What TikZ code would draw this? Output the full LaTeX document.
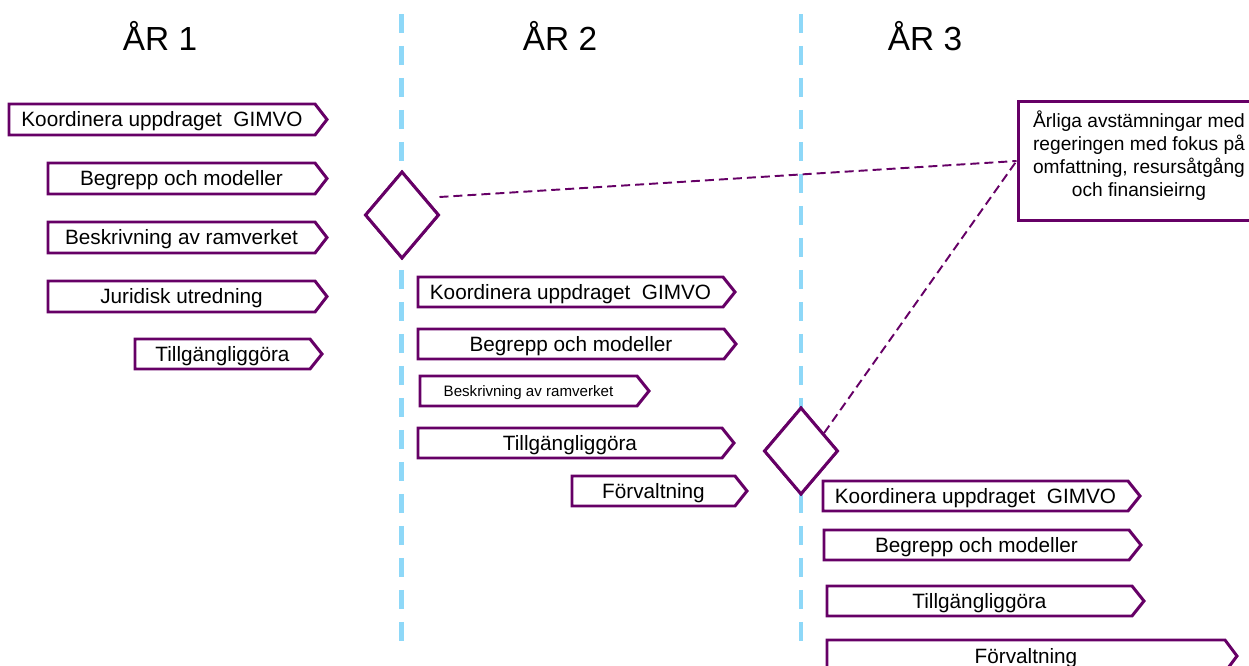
\documentclass[tikz,border=0pt]{standalone}
\usepackage{fontspec}
\setmainfont{Liberation Sans}
\usetikzlibrary{shapes.geometric,calc}
\definecolor{plum}{HTML}{660066}
\definecolor{sky}{HTML}{8ED8F8}
\tikzset{
  yearline/.style={draw=sky, line width=2.6pt, dash pattern=on 0.38cm off 0.26cm},
  phasebox/.style={draw=plum, line width=1.7pt, fill=white, line join=miter},
  phasetext/.style={inner sep=0pt, text height=8.45pt, text depth=0pt,
    font=\fontsize{11.8}{14}\selectfont},
  smalltext/.style={text height=6.16pt, font=\fontsize{8.6}{10}\selectfont},
  milestone/.style={diamond, draw=plum, line width=1.7pt, fill=white, inner sep=0pt,
    minimum width=1.48cm, minimum height=1.74cm},
  link/.style={draw=plum, line width=1.1pt, dash pattern=on 0.18cm off 0.1cm},
  yeartitle/.style={font=\fontsize{19}{22}\selectfont},
  notebox/.style={draw=plum, line width=1.7pt, fill=white, inner sep=0pt,
    minimum width=4.88cm, minimum height=2.4cm},
  notetext/.style={align=center, inner sep=0pt, font=\fontsize{10.9}{13.1}\selectfont}
}
% #1 extra text options, #2 name, #3 left x, #4 top y, #5 tip x, #6 bottom y, #7 label
\newcommand{\phase}[7][]{%
  \draw[phasebox] (#3,#4) -- ({#5-12},#4) -- (#5,{(#4+#6)/2}) -- ({#5-12},#6) -- (#3,#6) -- cycle;
  \node[phasetext,#1] (#2) at ({(#3+#5-12)/2},{(#4+#6)/2}) {#7};
}
\begin{document}
\begin{tikzpicture}[x=0.02cm, y=-0.02cm]
\useasboundingbox (0,0) rectangle (1249,666);

% year separators
\draw[yearline] (401.5,14) -- (401.5,646);
\draw[yearline] (801,14) -- (801,646);

% year headings
\node[yeartitle] (y1) at (160,36) {ÅR 1};
\node[yeartitle] (y2) at (560,36) {ÅR 2};
\node[yeartitle] (y3) at (925,36) {ÅR 3};

% annual review note and its links
\node[notebox] (review) at (1140,161) {};
\node[notetext] (reviewtext) at (1139,156) {Årliga avstämningar med\\regeringen med fokus på\\omfattning, resursåtgång\\och finansieirng};
\coordinate (meet) at (review.west);

\node[milestone] (m1) at (402,215) {};
\node[milestone] (m2) at (801,451) {};

\coordinate (m1out) at ($(m1.east)+(-1,-18)$);
\coordinate (m2out) at ($(m2.north)!0.6!(m2.east)$);
\draw[link] (m1out) -- (meet);
\draw[link] (m2out) -- (meet);
\node[milestone] at (402,215) {};
\node[milestone] at (801,451) {};

% year 1
\phase{a1}{9}{104}{327}{135}{Koordinera uppdraget \ GIMVO}
\phase{a2}{48}{163}{327}{194}{Begrepp och modeller}
\phase{a3}{48}{222}{327}{253}{Beskrivning av ramverket}
\phase{a4}{48}{281}{327}{312}{Juridisk utredning}
\phase{a5}{135}{339}{322}{369}{Tillgängliggöra}

% year 2
\phase{b1}{418}{277}{735}{307}{Koordinera uppdraget \ GIMVO}
\phase{b2}{418}{329}{736}{359}{Begrepp och modeller}
\phase[smalltext]{b3}{420}{376}{649}{406}{Beskrivning av ramverket}
\phase{b4}{418}{428}{734}{458}{Tillgängliggöra}
\phase{b5}{572}{476}{747}{506}{Förvaltning}

% year 3
\phase{c1}{823}{481}{1140}{511}{Koordinera uppdraget \ GIMVO}
\phase{c2}{824}{530}{1141}{560}{Begrepp och modeller}
\phase{c3}{827}{586}{1144}{616}{Tillgängliggöra}
\phase{c4}{827}{640}{1237}{672}{Förvaltning}
\end{tikzpicture}
\end{document}
